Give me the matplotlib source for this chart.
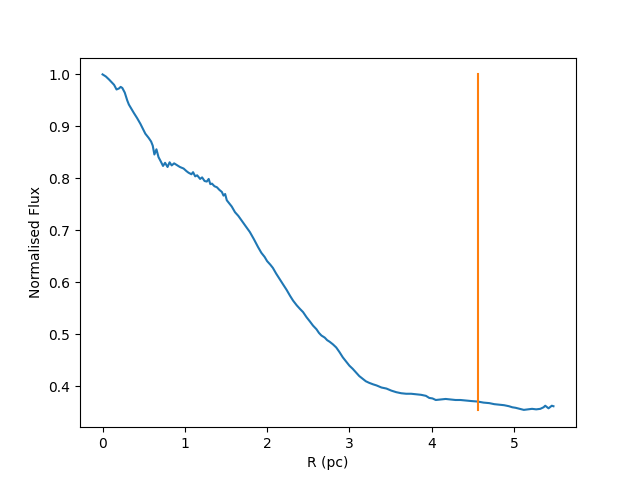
import numpy
import matplotlib
matplotlib.use('Agg')
import matplotlib.pyplot as plt

# radial profile (R in pc, normalised flux)
radius = [0.00, 0.04, 0.08, 0.14, 0.17, 0.20, 0.22, 0.24, 0.27, 0.30, 0.32, 0.38, 0.42, 0.46,
          0.52, 0.56, 0.59, 0.61, 0.63, 0.655, 0.68, 0.71, 0.735, 0.76, 0.79, 0.815, 0.84, 0.87,
          0.90, 0.94, 0.985, 1.02, 1.045, 1.08, 1.10, 1.126, 1.15, 1.186, 1.21, 1.24, 1.267,
          1.29, 1.31, 1.33, 1.36, 1.39, 1.42, 1.45, 1.47, 1.49, 1.51, 1.53, 1.57, 1.61, 1.65,
          1.69, 1.74, 1.79, 1.84, 1.89, 1.93, 1.97, 2.00, 2.04, 2.07, 2.11, 2.15, 2.195, 2.236,
          2.28, 2.316, 2.36, 2.40, 2.437, 2.48, 2.52, 2.558, 2.60, 2.63, 2.66, 2.70, 2.73, 2.76,
          2.80, 2.84, 2.88, 2.92, 2.96, 3.00, 3.04, 3.08, 3.12, 3.16, 3.20, 3.24, 3.29, 3.33,
          3.39, 3.45, 3.51, 3.57, 3.63, 3.69, 3.75, 3.81, 3.87, 3.93, 3.97, 4.01, 4.05, 4.11,
          4.17, 4.23, 4.29, 4.35, 4.41, 4.48, 4.56, 4.63, 4.70, 4.76, 4.82, 4.88, 4.94, 4.98,
          5.02, 5.07, 5.12, 5.17, 5.22, 5.27, 5.32, 5.36, 5.38, 5.42, 5.46, 5.48]
flux = [1.000, 0.996, 0.990, 0.980, 0.971, 0.973, 0.976, 0.974, 0.965, 0.950, 0.942, 0.926,
        0.916, 0.905, 0.886, 0.878, 0.871, 0.863, 0.846, 0.856, 0.841, 0.832, 0.824, 0.830,
        0.822, 0.831, 0.825, 0.829, 0.826, 0.822, 0.819, 0.814, 0.811, 0.808, 0.812, 0.804,
        0.806, 0.799, 0.802, 0.795, 0.794, 0.799, 0.789, 0.790, 0.785, 0.783, 0.778, 0.774,
        0.767, 0.770, 0.758, 0.754, 0.746, 0.735, 0.728, 0.719, 0.708, 0.697, 0.683, 0.668,
        0.657, 0.649, 0.641, 0.634, 0.628, 0.617, 0.607, 0.596, 0.586, 0.574, 0.565, 0.556,
        0.549, 0.543, 0.533, 0.525, 0.517, 0.510, 0.503, 0.498, 0.494, 0.489, 0.486, 0.481,
        0.475, 0.466, 0.456, 0.448, 0.440, 0.434, 0.427, 0.420, 0.415, 0.410, 0.407, 0.404,
        0.402, 0.398, 0.396, 0.392, 0.389, 0.387, 0.386, 0.386, 0.385, 0.384, 0.382, 0.378,
        0.377, 0.374, 0.375, 0.376, 0.375, 0.374, 0.374, 0.373, 0.372, 0.371, 0.369, 0.368,
        0.366, 0.365, 0.364, 0.362, 0.360, 0.359, 0.357, 0.355, 0.356, 0.357, 0.356, 0.357,
        0.360, 0.363, 0.358, 0.363, 0.362]

# marker radius (vertical line)
r_mark = 4.56
mark_span = [0.354, 1.0]

plt.figure(figsize=(6.4, 4.8), dpi=100)
plt.plot(radius, flux)
plt.plot([r_mark, r_mark], mark_span)
plt.xlabel("R (pc)")
plt.ylabel("Normalised Flux")
plt.savefig('out.png')
